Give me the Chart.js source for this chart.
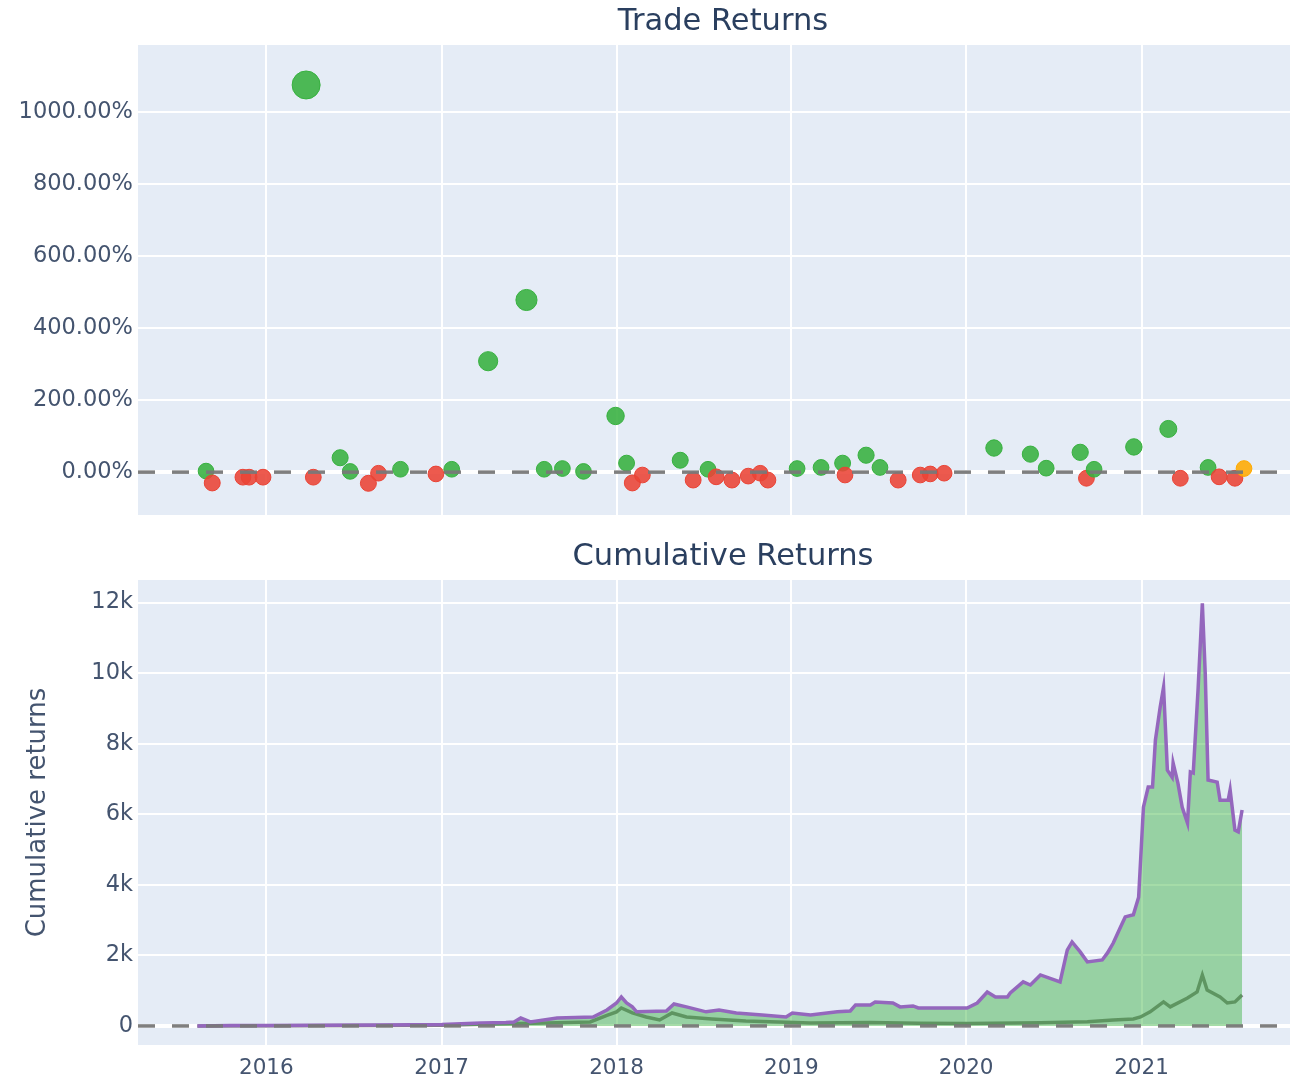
<!DOCTYPE html>
<html>
<head>
<meta charset="utf-8">
<script src="https://cdn.jsdelivr.net/npm/chart.js@4.4.1/dist/chart.umd.min.js"></script>
<style>
  body { margin: 0; background: #fff; }
  #tradeChart { position: absolute; left: 0; top: 0; }
  #cumChart { position: absolute; left: 0; top: 530px; }
</style>
</head>
<body>
<canvas id="tradeChart" width="1291" height="530"></canvas>
<canvas id="cumChart" width="1291" height="551"></canvas>
<script>
// Trade returns (exit date, return in %)
const tradeDates = [
  "2015-08-28", "2015-09-10", "2015-11-13", "2015-11-26", "2015-12-25", "2016-03-24",
  "2016-04-08", "2016-06-03", "2016-06-24", "2016-08-01", "2016-08-22", "2016-10-07",
  "2016-12-20", "2017-01-22", "2017-04-08", "2017-06-27", "2017-08-03", "2017-09-10",
  "2017-10-24", "2017-12-30", "2018-01-22", "2018-02-03", "2018-02-24", "2018-05-14",
  "2018-06-10", "2018-07-11", "2018-07-28", "2018-08-30", "2018-10-03", "2018-10-28",
  "2018-11-13", "2019-01-13", "2019-03-04", "2019-04-18", "2019-04-23", "2019-06-06",
  "2019-07-05", "2019-08-12", "2019-09-27", "2019-10-18", "2019-11-16", "2020-02-28",
  "2020-05-14", "2020-06-16", "2020-08-26", "2020-09-08", "2020-09-24", "2020-12-16",
  "2021-02-26", "2021-03-23", "2021-05-20", "2021-06-12", "2021-07-15", "2021-08-03"
];
const tradeReturns = [
  3, -30, -14, -14, -14, 1075,
  -14, 40, 2, -31, -3, 8,
  -5, 8, 308, 478, 8, 10,
  2, 156, 25, -30, -8, 33,
  -22, 8, -13, -22, -11, -3,
  -22, 10, 13, 25, -8, 47,
  13, -22, -8, -5, -3, 67,
  50, 11, 55, -17, 8, 70,
  120, -17, 13, -13, -17, 10
];
const openTradeDates = ["2021-08-03"];

// Cumulative returns (%)
const cumDates = [
  "2015-08-10", "2015-10-18", "2016-01-01", "2016-04-22", "2016-08-26", "2017-01-01",
  "2017-03-24", "2017-05-15", "2017-06-01", "2017-06-15", "2017-07-05", "2017-08-30",
  "2017-10-07", "2017-11-13", "2017-12-12", "2018-01-01", "2018-01-11", "2018-01-22",
  "2018-02-03", "2018-02-12", "2018-04-15", "2018-05-01", "2018-05-27", "2018-07-07",
  "2018-08-03", "2018-09-08", "2018-11-01", "2018-12-21", "2019-01-03", "2019-02-10",
  "2019-04-07", "2019-05-04", "2019-05-15", "2019-06-15", "2019-06-25", "2019-08-01",
  "2019-08-16", "2019-09-12", "2019-09-23", "2020-01-03", "2020-01-24", "2020-02-14",
  "2020-03-02", "2020-03-27", "2020-04-02", "2020-04-29", "2020-05-14", "2020-06-04",
  "2020-07-15", "2020-07-30", "2020-08-09", "2020-08-26", "2020-09-10", "2020-10-11",
  "2020-10-22", "2020-11-03", "2020-11-18", "2020-11-28", "2020-12-15", "2020-12-26",
  "2021-01-05", "2021-01-15", "2021-01-24", "2021-01-30", "2021-02-09", "2021-02-16",
  "2021-02-24", "2021-03-06", "2021-03-08", "2021-03-18", "2021-03-27", "2021-04-07",
  "2021-04-13", "2021-04-19", "2021-04-29", "2021-05-08", "2021-05-14", "2021-05-20",
  "2021-06-08", "2021-06-14", "2021-07-01", "2021-07-05", "2021-07-15", "2021-07-22",
  "2021-07-30"
];
const cumReturns = [
  0, 10, 15, 20, 25, 40,
  85, 100, 113, 227, 113, 227,
  240, 255, 453, 650, 820, 650,
  540, 400, 425, 623, 540, 400,
  453, 368, 312, 255, 368, 312,
  400, 425, 595, 595, 680, 650,
  540, 567, 510, 510, 650, 963,
  820, 820, 935, 1250, 1160, 1445,
  1250, 2150, 2380, 2100, 1815, 1870,
  2070, 2350, 2800, 3090, 3150, 3650,
  6200, 6770, 6770, 8100, 9040, 9600,
  7250, 7050, 7450, 6880, 6200, 5750,
  7200, 7170, 9520, 11980, 10000, 6970,
  6910, 6400, 6400, 6690, 5550, 5500,
  6120
];

// Benchmark cumulative returns (%)
const benchDates = [
  "2015-08-10", "2017-01-01", "2017-03-24", "2017-08-30", "2017-11-07", "2017-12-12",
  "2018-01-01", "2018-01-11", "2018-02-03", "2018-03-04", "2018-04-01", "2018-04-27",
  "2018-05-27", "2018-07-19", "2018-09-28", "2019-02-10", "2019-06-15", "2019-09-23",
  "2020-01-03", "2020-06-04", "2020-09-10", "2020-11-03", "2020-12-15", "2020-12-30",
  "2021-01-19", "2021-02-16", "2021-03-02", "2021-04-07", "2021-04-27", "2021-05-08",
  "2021-05-18", "2021-06-14", "2021-06-29", "2021-07-15", "2021-07-30"
];
const benchReturns = [
  0, 20, 50, 90, 113, 300,
  400, 510, 368, 255, 170, 368,
  255, 198, 142, 85, 100, 80,
  70, 90, 120, 170, 200, 255,
  400, 680, 540, 790, 963, 1445,
  1020, 820, 650, 680, 880
];

const yearTicks = [2016, 2017, 2018, 2019, 2020, 2021];
const tradeTicks = [0, 200, 400, 600, 800, 1000];
const cumTicks = [0, 2000, 4000, 6000, 8000, 10000, 12000];
const xRange = ["2015-04-08", "2021-11-07"];

const ts = d => Date.parse(d + "T00:00:00Z");
const FONT = "'DejaVu Sans', Verdana, sans-serif";
const TEXT = "#2a3f5f";
const TICK = "#44546f";
const GREEN = "#37B13F", RED = "#EA4335", ORANGE = "#FFAA00", PURPLE = "#9467bd";

// plot background
const plotBg = {
  id: "plotBg",
  beforeDraw(chart) {
    const { ctx, chartArea: a } = chart;
    ctx.save();
    ctx.fillStyle = "#E5ECF6";
    ctx.fillRect(a.left, a.top, a.right - a.left, a.bottom - a.top);
    ctx.restore();
  }
};

// dashed line at y = 0, on top of the traces
const zeroLine = {
  id: "zeroLine",
  afterDatasetsDraw(chart) {
    const { ctx, chartArea: a, scales } = chart;
    const y = scales.y.getPixelForValue(0);
    ctx.save();
    ctx.beginPath();
    ctx.rect(a.left, a.top, a.right - a.left, a.bottom - a.top);
    ctx.clip();
    ctx.strokeStyle = "rgba(120,120,120,0.95)";
    ctx.lineWidth = 3.5;
    ctx.setLineDash([17, 17]);
    ctx.beginPath();
    ctx.moveTo(a.left, y);
    ctx.lineTo(a.right, y);
    ctx.stroke();
    ctx.restore();
  }
};

// subplot title over the plot area
const areaTitle = {
  id: "areaTitle",
  afterDraw(chart, args, opts) {
    const { ctx, chartArea: a } = chart;
    ctx.save();
    ctx.font = "30.5px " + FONT;
    ctx.fillStyle = TEXT;
    ctx.textAlign = "center";
    ctx.textBaseline = "middle";
    ctx.fillText(opts.text, (a.left + a.right) / 2 + opts.dx, opts.y);
    ctx.restore();
  }
};

function xScale(showLabels) {
  return {
    type: "linear",
    min: ts(xRange[0]),
    max: ts(xRange[1]),
    afterBuildTicks: s => { s.ticks = yearTicks.map(y => ({ value: Date.UTC(y, 0, 1) })); },
    afterFit: s => { s.height = showLabels ? 36 : 0; },
    grid: { color: "#ffffff", lineWidth: 2, drawTicks: false },
    border: { display: false },
    ticks: {
      display: showLabels,
      padding: 11,
      color: TICK,
      font: { family: FONT, size: 21.5 },
      maxRotation: 0,
      callback: v => new Date(v).getUTCFullYear()
    }
  };
}

function yGrid() {
  return {
    color: "#ffffff",
    lineWidth: c => (c.tick && c.tick.value === 0 ? 4 : 2),
    drawTicks: false
  };
}

// fixed y-axis width, no extra label padding above/below the plot
function fitY(s) {
  s.width = 138;
  s.paddingTop = 0;
  s.paddingBottom = 0;
}

const maxAbs = Math.max(...tradeReturns.map(Math.abs));
const tradePoints = tradeDates.map((d, i) => ({ x: ts(d), y: tradeReturns[i], open: openTradeDates.includes(d) }));
const markerColor = p => (p.open ? ORANGE : p.y >= 0 ? GREEN : RED);

new Chart(document.getElementById("tradeChart"), {
  type: "scatter",
  data: {
    datasets: [{
      label: "Trade Returns",
      data: tradePoints,
      pointRadius: c => 7.8 + Math.abs(c.raw.y) / maxAbs * 6.2,
      pointBackgroundColor: c => markerColor(c.raw) + "e0",
      pointBorderColor: c => markerColor(c.raw),
      pointBorderWidth: 1
    }]
  },
  options: {
    responsive: false,
    animation: false,
    events: [],
    layout: { autoPadding: false, padding: { top: 45, bottom: 15, left: 0, right: 1 } },
    plugins: {
      legend: { display: false },
      tooltip: { enabled: false },
      areaTitle: { text: "Trade Returns", y: 22, dx: 9 }
    },
    scales: {
      x: xScale(false),
      y: {
        min: -119,
        max: 1186,
        afterBuildTicks: s => { s.ticks = tradeTicks.map(v => ({ value: v })); },
        afterFit: fitY,
        grid: yGrid(),
        border: { display: false },
        ticks: {
          padding: 5,
          color: TICK,
          font: { family: FONT, size: 22.5 },
          callback: v => v.toFixed(2) + "%"
        }
      }
    }
  },
  plugins: [plotBg, zeroLine, areaTitle]
});

new Chart(document.getElementById("cumChart"), {
  type: "line",
  data: {
    datasets: [
      {
        label: "Value",
        data: cumDates.map((d, i) => ({ x: ts(d), y: cumReturns[i] })),
        borderColor: PURPLE,
        borderWidth: 3.5,
        backgroundColor: "rgba(55,177,63,0.45)",
        fill: "origin",
        pointRadius: 0,
        tension: 0,
        order: 1
      },
      {
        label: "Benchmark",
        data: benchDates.map((d, i) => ({ x: ts(d), y: benchReturns[i] })),
        borderColor: "#7f7f7f",
        borderWidth: 3.5,
        fill: false,
        pointRadius: 0,
        tension: 0,
        order: 2
      }
    ]
  },
  options: {
    responsive: false,
    animation: false,
    events: [],
    layout: { autoPadding: false, padding: { top: 50, bottom: 0, left: 0, right: 1 } },
    plugins: {
      legend: { display: false },
      tooltip: { enabled: false },
      areaTitle: { text: "Cumulative Returns", y: 27, dx: 9 }
    },
    scales: {
      x: xScale(true),
      y: {
        min: -540,
        max: 12640,
        afterBuildTicks: s => { s.ticks = cumTicks.map(v => ({ value: v })); },
        afterFit: fitY,
        grid: yGrid(),
        border: { display: false },
        title: {
          display: true,
          text: "Cumulative returns",
          color: TICK,
          font: { family: FONT, size: 26 },
          padding: { top: 23 }
        },
        ticks: {
          padding: 5,
          color: TICK,
          font: { family: FONT, size: 22.5 },
          callback: v => (v === 0 ? "0" : v / 1000 + "k")
        }
      }
    }
  },
  plugins: [plotBg, zeroLine, areaTitle]
});
</script>
</body>
</html>
